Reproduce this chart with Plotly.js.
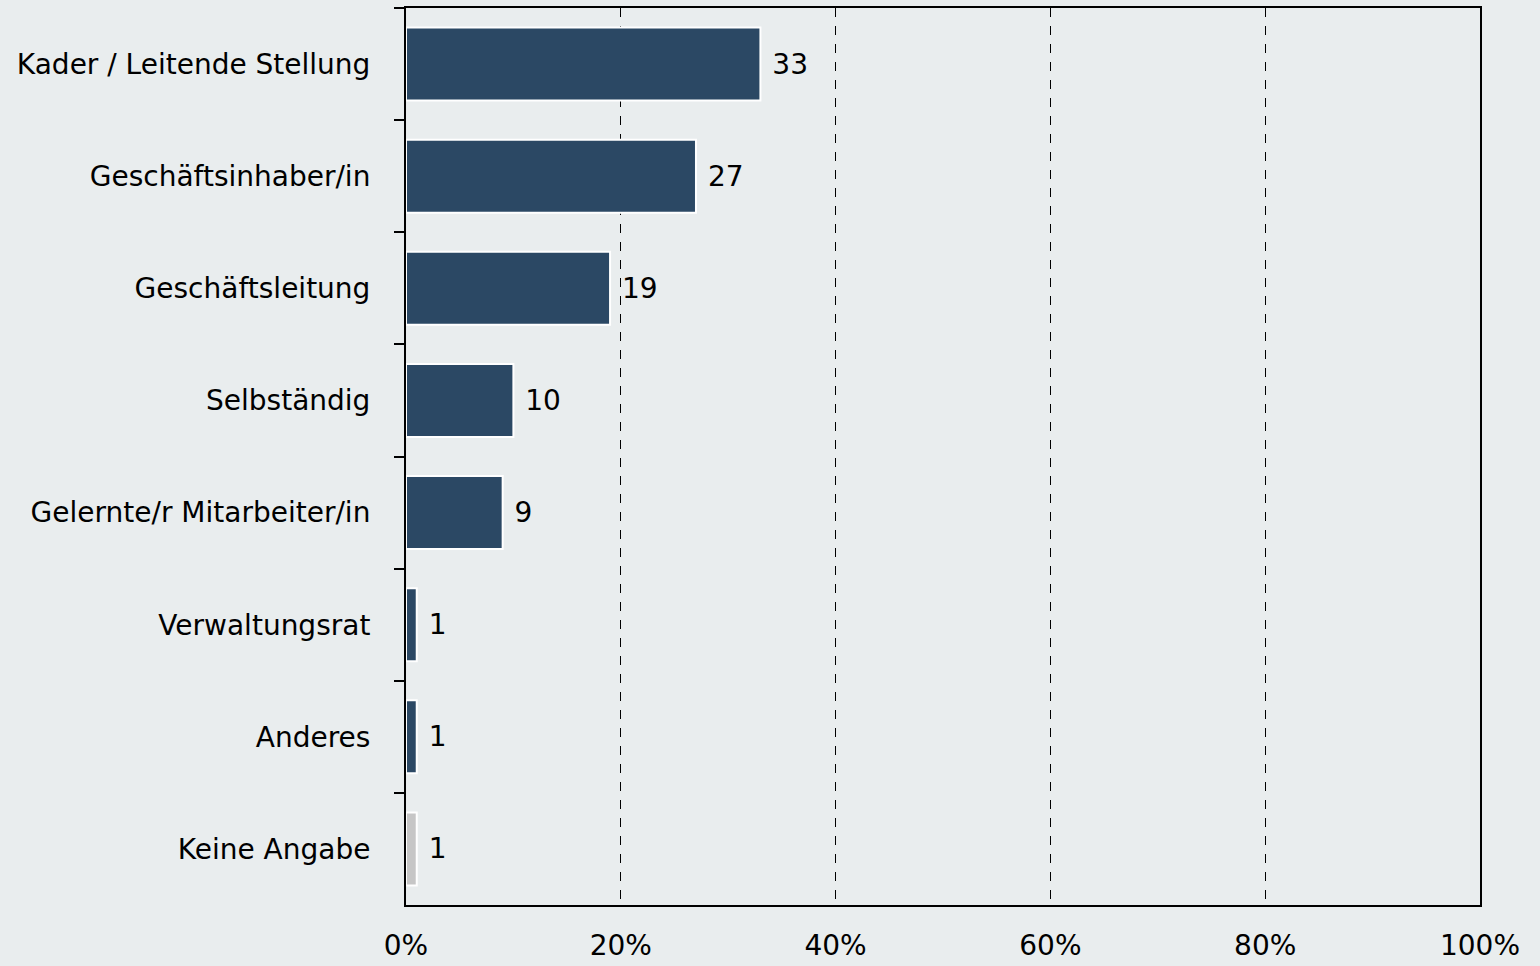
<!DOCTYPE html>
<html><head><meta charset="utf-8">
<script src="https://cdn.plot.ly/plotly-3.0.1.min.js"></script>
<style>html,body{margin:0;padding:0;background:#E9EDEE;}</style>
</head><body>
<div id="chart" style="width:1540px;height:966px;"></div>
<script>
const categories = ["Kader / Leitende Stellung","Geschäftsinhaber/in","Geschäftsleitung","Selbständig","Gelernte/r Mitarbeiter/in","Verwaltungsrat","Anderes","Keine Angabe"];
const values = [33, 27, 19, 10, 9, 1, 1, 1];
const barColors = ["#2B4864","#2B4864","#2B4864","#2B4864","#2B4864","#2B4864","#2B4864","#C6C6C6"];
const xTickVals = [0, 20, 40, 60, 80, 100];
const xTickText = ["0%","20%","40%","60%","80%","100%"];

const font = {family: "DejaVu Sans, Verdana, sans-serif", size: 28, color: "#000"};
Plotly.newPlot("chart", [{
  type: "bar", orientation: "h",
  y: categories, x: values,
  marker: {color: barColors, line: {color: "#FFFFFF", width: 2}},
  text: values.map(String), texttemplate: " %{text}", textposition: "outside",
  textfont: font, cliponaxis: false, hoverinfo: "skip"
}], {
  width: 1540, height: 966,
  paper_bgcolor: "#E9EDEE", plot_bgcolor: "#E9EDEE",
  margin: {l: 406, r: 60, t: 8, b: 61},
  bargap: 0.35, showlegend: false, font: font,
  xaxis: {range: [0, 100], tickvals: xTickVals, ticktext: xTickText, showgrid: true,
    gridcolor: "#000", griddash: "dash", gridwidth: 1, zeroline: false,
    showline: true, linecolor: "#000", linewidth: 2, mirror: true, ticks: "",
    ticklabelstandoff: 14, tickfont: font, fixedrange: true},
  yaxis: {autorange: "reversed", type: "category", showline: true, linecolor: "#000", linewidth: 2,
    mirror: true, ticks: "outside", ticklen: 10, tickcolor: "#000", tickwidth: 2,
    tickson: "boundaries", ticklabelstandoff: 28, showgrid: false, tickfont: font, fixedrange: true}
}, {displayModeBar: false, staticPlot: true});
</script>
</body></html>
